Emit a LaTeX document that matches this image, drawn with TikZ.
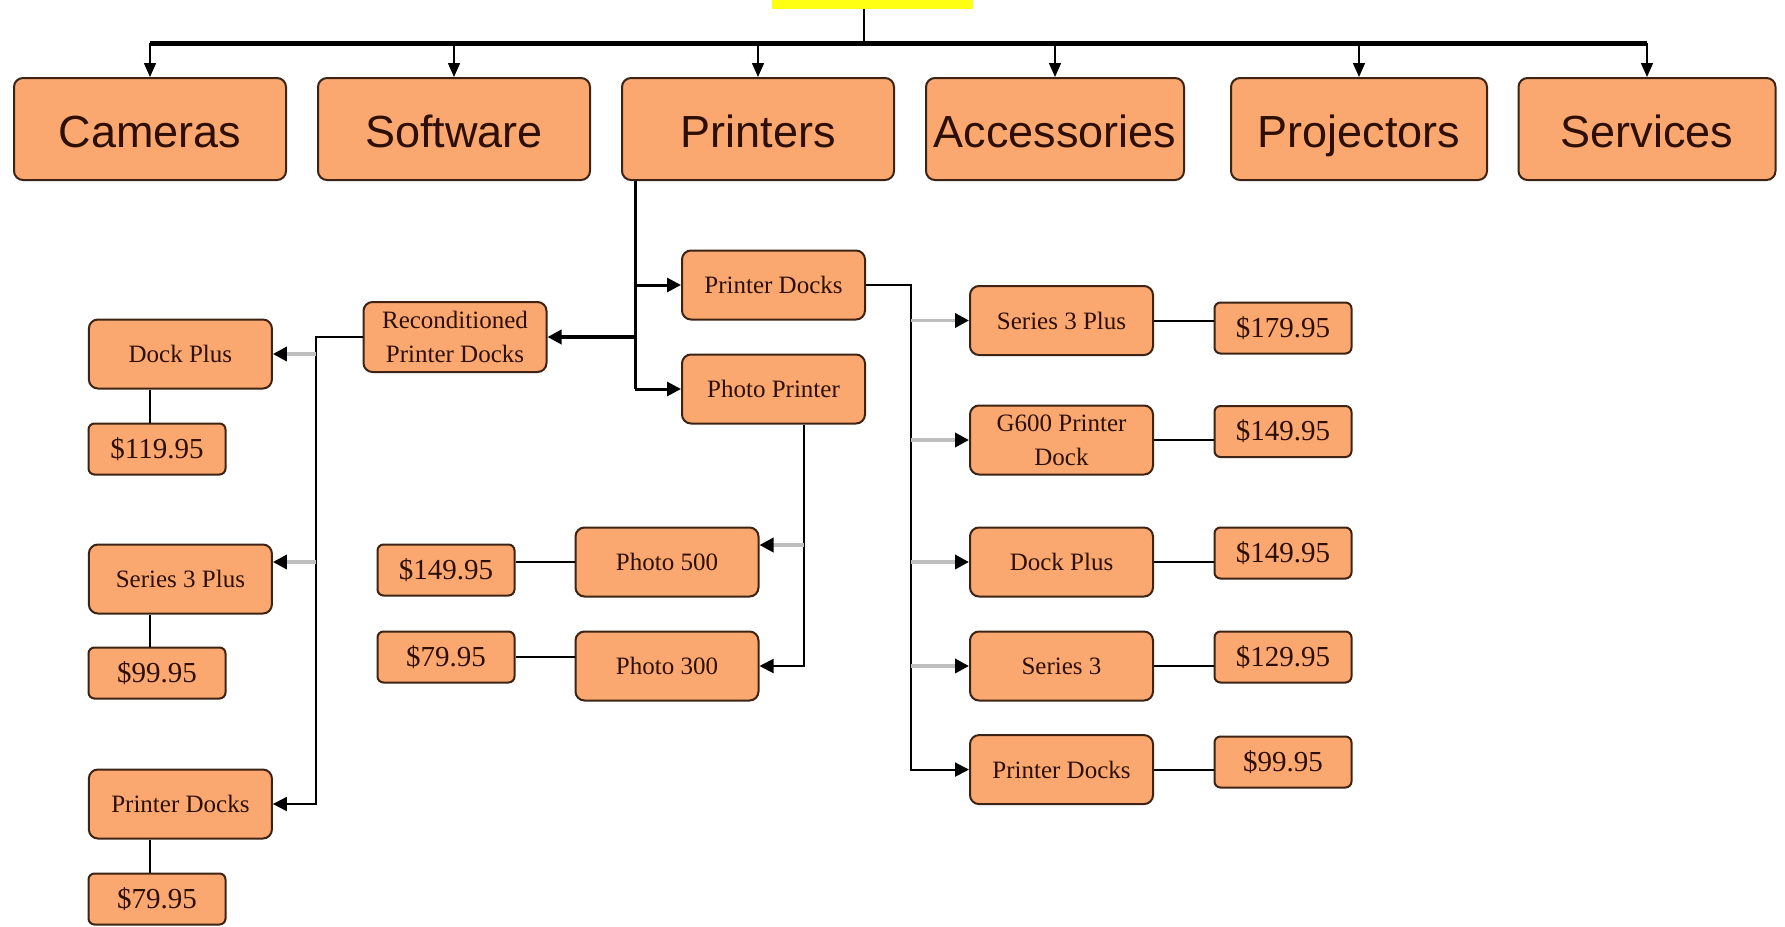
\documentclass[tikz,border=0pt]{standalone}
\usepackage{fontspec}
\setmainfont{Liberation Serif}
\newfontfamily\headfont{Liberation Sans}
\usepackage{xcolor}
\usetikzlibrary{arrows.meta, calc}

\definecolor{boxfill}{RGB}{250,168,112}
\definecolor{boxline}{RGB}{60,35,20}
\definecolor{inkbrown}{RGB}{45,15,5}
\definecolor{rootfill}{RGB}{255,255,20}

\begin{document}
\begin{tikzpicture}[
    x=1pt, y=-1pt,
    basebox/.style={draw=boxline, line width=2pt, rounded corners=9pt, fill=boxfill, text=inkbrown, align=center, inner sep=2pt},
    catbox/.style={basebox, minimum height=102pt, text height=36pt, text depth=0pt, font=\headfont\fontsize{45}{50}\selectfont},
    itembox/.style={basebox, minimum width=183pt, minimum height=69pt, font=\fontsize{25}{34}\selectfont},
    pricebox/.style={basebox, minimum width=137pt, minimum height=51pt, rounded corners=6pt, font=\fontsize{29}{31}\selectfont},
    rootbox/.style={fill=rootfill, minimum width=201pt, minimum height=30pt},
    bus/.style={line width=5pt},
    trunk/.style={line width=3pt},
    link/.style={line width=2pt},
    drop/.style={line width=1.5pt, -{Triangle[width=12pt,length=14pt]}},
    arrow/.style={line width=2pt, -{Triangle[width=14pt,length=14pt]}},
    stub/.style={line width=3.5pt, draw=gray!50, -{Triangle[width=14pt,length=14pt,color=black]}}
]
\useasboundingbox (0,0) rectangle (1785,926);

% Nodes
\node[rootbox] (root) at (872,-6) {};
\node[catbox, minimum width=272pt] (cameras) at (150,129) {Cameras};
\node[catbox, minimum width=272pt] (software) at (454,129) {Software};
\node[catbox, minimum width=272pt] (printers) at (758,129) {Printers};
\node[catbox, minimum width=258pt] (accessories) at (1055,129) {Accessories};
\node[catbox, minimum width=256pt] (projectors) at (1359,129) {Projectors};
\node[catbox, minimum width=257pt] (services) at (1647,129) {Services};

\node[itembox] (pdocks) at (773.5,285) {Printer Docks};
\node[itembox] (photo) at (773.5,389) {Photo Printer};
\node[itembox, minimum height=70pt] (recond) at (455,337) {Reconditioned\\Printer Docks};

\node[itembox] (ldock) at (180.4,354) {Dock Plus};
\node[itembox] (lseries) at (180.4,579) {Series 3 Plus};
\node[itembox] (lpdocks) at (180.4,804) {Printer Docks};
\node[pricebox] (lprice1) at (157,449) {\$119.95};
\node[pricebox] (lprice2) at (157,673) {\$99.95};
\node[pricebox] (lprice3) at (157,899) {\$79.95};

\node[itembox] (photo500) at (667,562) {Photo 500};
\node[itembox] (photo300) at (667,666) {Photo 300};
\node[pricebox] (price500) at (446,570) {\$149.95};
\node[pricebox] (price300) at (446,657) {\$79.95};

\node[itembox] (rs3plus) at (1061.5,320.5) {Series 3 Plus};
\node[itembox] (rg600) at (1061.5,440) {G600 Printer\\Dock};
\node[itembox] (rdock) at (1061.5,562) {Dock Plus};
\node[itembox] (rs3) at (1061.5,666) {Series 3};
\node[itembox] (rpdocks) at (1061.5,769.6) {Printer Docks};
\node[pricebox] (rprice1) at (1283,328) {\$179.95};
\node[pricebox] (rprice2) at (1283,431.5) {\$149.95};
\node[pricebox] (rprice3) at (1283,553) {\$149.95};
\node[pricebox] (rprice4) at (1283,657) {\$129.95};
\node[pricebox] (rprice5) at (1283,762) {\$99.95};

% Helper columns
\coordinate (busline) at (0,43);
\coordinate (rootstem) at (864,0);
\coordinate (ptrunk) at (635,0);
\coordinate (ltrunk) at (316,0);
\coordinate (lstem) at (150,0);
\coordinate (photodrop) at (804,0);
\coordinate (rtrunk) at (911,0);
\coordinate (lseriesin) at ($(lseries.east)+(0,-17)$);
\coordinate (p500in) at ($(photo500.east)+(0,-17)$);

% Links
\draw[bus] (cameras.north |- busline) -- (services.north |- busline);
\draw[link] (rootstem |- root.south) -- (rootstem |- busline);
\foreach \n in {cameras,software,printers,accessories,projectors,services}
    \draw[drop] (\n.north |- busline) -- (\n.north);

\draw[trunk] (ptrunk |- printers.south) -- (ptrunk |- photo.west);
\draw[arrow, line width=3pt] (ptrunk |- pdocks.west) -- (pdocks.west);
\draw[arrow, line width=3pt] (ptrunk |- photo.west) -- (photo.west);
\draw[arrow, line width=4pt] (ptrunk |- recond.east) -- (recond.east);

\draw[arrow] (recond.west) -- (ltrunk |- recond.west) -- (ltrunk |- lpdocks.east) -- (lpdocks.east);
\draw[stub] (ltrunk |- ldock.east) -- (ldock.east);
\draw[stub] (ltrunk |- lseriesin) -- (lseriesin);
\foreach \a/\b in {ldock/lprice1, lseries/lprice2, lpdocks/lprice3}
    \draw[link] (lstem |- \a.south) -- (lstem |- \b.north);

\draw[arrow] (photodrop |- photo.south) -- (photodrop |- photo300.east) -- (photo300.east);
\draw[stub] (photodrop |- p500in) -- (p500in);
\draw[link] (photo500.west) -- (photo500.west -| price500.east);
\draw[link] (price300.east) -- (price300.east -| photo300.west);

\draw[arrow] (pdocks.east) -- (rtrunk |- pdocks.east) -- (rtrunk |- rpdocks.west) -- (rpdocks.west);
\foreach \n in {rs3plus, rg600, rdock, rs3}
    \draw[stub] (rtrunk |- \n.west) -- (\n.west);
\foreach \a/\b in {rs3plus/rprice1, rg600/rprice2, rdock/rprice3, rs3/rprice4, rpdocks/rprice5}
    \draw[link] (\a.east) -- (\a.east -| \b.west);

\end{tikzpicture}
\end{document}
